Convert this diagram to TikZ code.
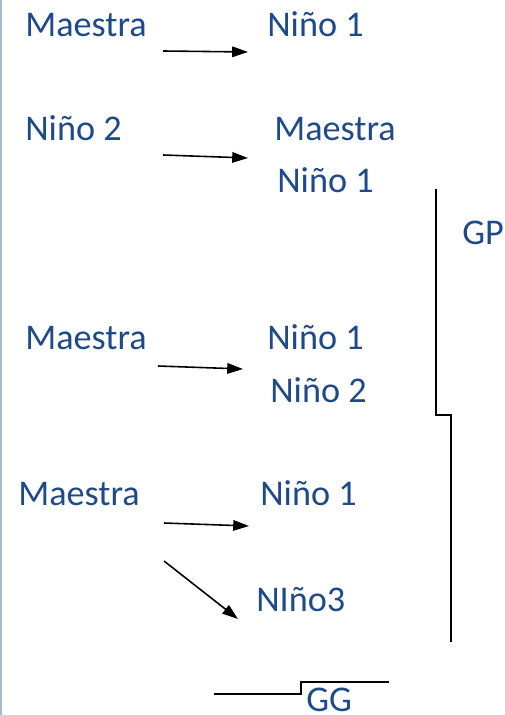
\documentclass[tikz,border=0pt]{standalone}
\usepackage{fontspec}
\setmainfont{Carlito}
\usetikzlibrary{arrows.meta}
\begin{document}
\begin{tikzpicture}[x=0.02cm, y=-0.02cm,
  txt/.style={anchor=base west, inner sep=0pt, text=colorTexto, font=\fontsize{20.6}{24}\selectfont},
  flecha/.style={-{Triangle[length=9pt, width=6pt]}, line width=0.9pt},
  linea/.style={line width=0.9pt}
  ]
  % Colori locali
  \definecolor{colorTexto}{RGB}{30,74,140}
  \definecolor{colorBorde}{RGB}{170,186,206}

  \useasboundingbox (0,0) rectangle (504,715);
  \draw[colorBorde, line width=1.2pt] (1,0) -- (1,715);

  % Fila 1
  \node[txt] (maestraA) at (25,37) {Maestra};
  \node[txt] (ninoA) at (267,37) {Niño 1};
  \coordinate (a1) at (163,51);
  \coordinate (a2) at (248,52);
  \draw[flecha] (a1) -- (a2);

  % Fila 2
  \node[txt] (ninoB) at (25,141) {Niño 2};
  \node[txt] (maestraB) at (274,141) {Maestra};
  \node[txt] (ninoBb) at (277,193) {Niño 1};
  \coordinate (b1) at (163,155);
  \coordinate (b2) at (248,158);
  \draw[flecha] (b1) -- (b2);

  % Fila 3
  \node[txt] (maestraC) at (25,350) {Maestra};
  \node[txt] (ninoC) at (267,350) {Niño 1};
  \node[txt] (ninoCc) at (270,402) {Niño 2};
  \coordinate (c1) at (158,366);
  \coordinate (c2) at (243,369);
  \draw[flecha] (c1) -- (c2);

  % Fila 4
  \node[txt] (maestraD) at (18,505) {Maestra};
  \node[txt] (ninoD) at (260,505) {Niño 1};
  \node[txt] (ninoDd) at (256,611) {NIño3};
  \coordinate (d1) at (164,523);
  \coordinate (d2) at (249,526);
  \coordinate (d3) at (164,561);
  \coordinate (d4) at (238,619);
  \draw[flecha] (d1) -- (d2);
  \draw[flecha] (d3) -- (d4);

  % Gruppi
  \node[txt] (gp) at (462,245) {GP};
  \draw[linea] (436,189) -- (436,415) -- (451,415) -- (451,642);
  \node[txt] (gg) at (306,711) {GG};
  \draw[linea] (214,694) -- (301,694) -- (301,682) -- (389,682);
\end{tikzpicture}
\end{document}
